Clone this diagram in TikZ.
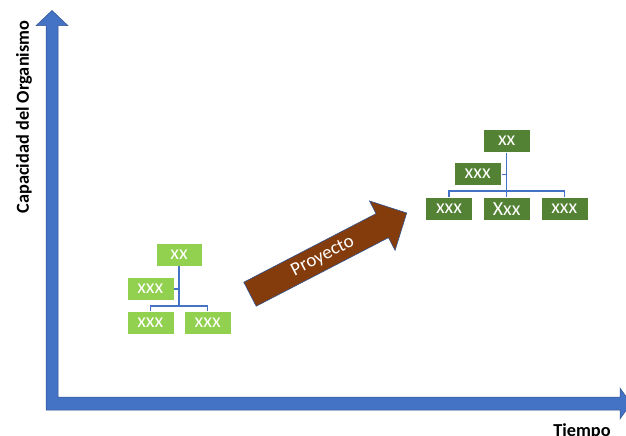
\documentclass[tikz,border=0pt]{standalone}
\usepackage{fontspec}
\setmainfont{Carlito}
\definecolor{axisblue}{HTML}{4472C4}
\definecolor{axisedge}{HTML}{2F528F}
\definecolor{lightgreen}{HTML}{92D050}
\definecolor{darkgreen}{HTML}{548235}
\definecolor{rust}{HTML}{843C0C}
\begin{document}
\begin{tikzpicture}[x=1pt,y=-1pt,
  orgbox/.style={draw=white, line width=0.6pt, minimum width=47pt, minimum height=23pt,
    inner sep=0pt, text=white, font=\fontsize{20}{20}\selectfont},
  smallbox/.style={orgbox, fill=lightgreen},
  bigbox/.style={orgbox, fill=darkgreen},
  conn/.style={draw=axisblue, line width=1.1pt},
  axislabel/.style={font=\fontsize{18.3}{18.3}\selectfont\bfseries, text=black, inner sep=0pt}]
\useasboundingbox (0,0) rectangle (626,436);

% L-shaped axes with arrow heads
\fill[axisblue, draw=axisedge, line width=0.5pt]
  (46,410) -- (46,25.7) -- (36,25.7) -- (52,10.5) -- (68,25.7) -- (58,25.7)
  -- (58,397) -- (620,397) -- (620,388) -- (631,403.5) -- (620,419) -- (620,410) -- cycle;

\node[axislabel, rotate=90] (ylab) at (24,117) {Capacidad del Organismo};
\node[axislabel] (xlab) at (582,432) {Tiempo};

% small organisation chart
\node[smallbox, minimum width=46pt] (s0) at (179,254.5) {xx};
\node[smallbox] (sa) at (150.3,289) {xxx};
\node[smallbox] (s1) at (150.3,322.7) {xxx};
\node[smallbox] (s2) at (207.7,322.7) {xxx};
\coordinate (sbus) at (179,306);
\draw[conn] (s0.south) -- (sbus);
\draw[conn] (s1.north) |- (sbus) -| (s2.north);
\draw[conn] (sa.east) -- (sa.east -| s0.south);

% large organisation chart
\node[bigbox] (b0) at (506.7,140.8) {xx};
\node[bigbox] (ba) at (477.7,174.2) {xxx};
\node[bigbox] (b1) at (449,208.7) {xxx};
\node[bigbox] (b2) at (506.7,208.7) {Xxx};
\node[bigbox] (b3) at (564.3,208.7) {xxx};
\coordinate (bbus) at (506.7,191);
\draw[conn] (b0.south) -- (bbus);
\draw[conn] (b1.north) |- (bbus) -| (b3.north);
\draw[conn] (bbus) -- (b2.north);
\draw[conn] (ba.east) -- (ba.east -| b0.south);

% block arrow between the two charts
\begin{scope}[shift={(250,294.2)}, rotate=27.4]
  \fill[rust, draw=axisedge, line width=0.6pt]
    (0,13.5) -- (149,13.5) -- (149,27.8) -- (176.5,0) -- (149,-27.8)
    -- (149,-13.5) -- (0,-13.5) -- cycle;
  \node[text=white, font=\fontsize{19}{19}\selectfont, rotate=27.4] (proj) at (82,0) {Proyecto};
\end{scope}
\end{tikzpicture}
\end{document}
